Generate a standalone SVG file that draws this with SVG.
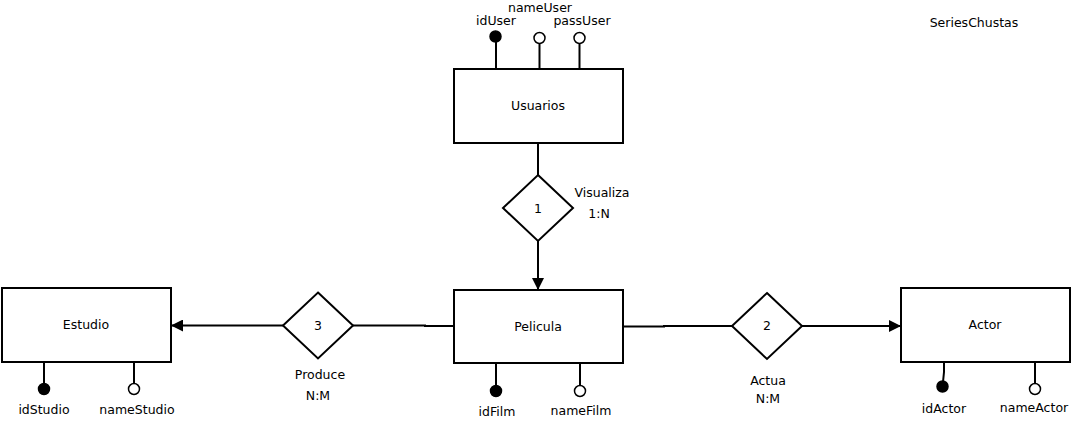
<svg xmlns="http://www.w3.org/2000/svg" width="1072" height="421" viewBox="0 0 1072 421">
<style>
text{font-family:"DejaVu Sans",sans-serif;font-size:12.5px;fill:#000;text-anchor:middle}
.ent{fill:#fff;stroke:#000;stroke-width:2}
.rel{fill:#fff;stroke:#000;stroke-width:2}
.ln{stroke:#000;stroke-width:2;fill:none}
.key{fill:#000;stroke:#000;stroke-width:1.5}
.att{fill:#fff;stroke:#000;stroke-width:1.5}
</style>
<defs>
<marker id="arr" viewBox="0 0 12 12" refX="12" refY="6" markerWidth="12" markerHeight="12" markerUnits="userSpaceOnUse" orient="auto">
<path d="M0,0 L12,6 L0,12 Z" fill="#000"/>
</marker>
</defs>
<g id="connectors">
<line class="ln" x1="538" y1="143" x2="538" y2="175"/>
<line class="ln" x1="538" y1="241" x2="538" y2="290" marker-end="url(#arr)"/>
<polyline class="ln" points="454,326 425,326 425,325.5 353,325.5"/>
<line class="ln" x1="283" y1="325.5" x2="171" y2="325.5" marker-end="url(#arr)"/>
<polyline class="ln" points="623,326.5 664,326.5 664,326 732,326"/>
<line class="ln" x1="802" y1="326" x2="901" y2="326" marker-end="url(#arr)"/>
</g>
<g id="usuarios">
<line class="ln" x1="496" y1="69" x2="496" y2="42"/>
<line class="ln" x1="539.5" y1="69" x2="539.5" y2="44"/>
<line class="ln" x1="579.5" y1="69" x2="579.5" y2="44"/>
<circle class="key" cx="495.5" cy="36.5" r="5.5"/>
<circle class="att" cx="539.5" cy="38" r="5.5"/>
<circle class="att" cx="579.5" cy="38" r="5.5"/>
<rect class="ent" x="454" y="69" width="169" height="74"/>
<text x="538" y="110">Usuarios</text>
<text x="496" y="25">idUser</text>
<text x="540" y="12">nameUser</text>
<text x="582" y="25">passUser</text>
</g>
<g id="rel1">
<polygon class="rel" points="538,175 573,208 538,241 503,208"/>
<text x="538" y="213">1</text>
<text x="602" y="197">Visualiza</text>
<text x="599" y="218">1:N</text>
</g>
<g id="pelicula">
<line class="ln" x1="496" y1="363" x2="496" y2="386"/>
<line class="ln" x1="580" y1="363" x2="580" y2="386"/>
<circle class="key" cx="496" cy="391" r="5.5"/>
<circle class="att" cx="580" cy="391" r="5.5"/>
<rect class="ent" x="454" y="290" width="169" height="73"/>
<text x="538" y="331">Pelicula</text>
<text x="497" y="416">idFilm</text>
<text x="581" y="415">nameFilm</text>
</g>
<g id="estudio">
<line class="ln" x1="44" y1="362" x2="44" y2="384"/>
<line class="ln" x1="134" y1="362" x2="134" y2="384"/>
<circle class="key" cx="44" cy="389" r="5.5"/>
<circle class="att" cx="134" cy="389" r="5.5"/>
<rect class="ent" x="2" y="288" width="169" height="74"/>
<text x="86" y="329">Estudio</text>
<text x="44" y="414">idStudio</text>
<text x="137" y="414">nameStudio</text>
</g>
<g id="rel3">
<polygon class="rel" points="318,292.5 353,325.5 318,358.5 283,325.5"/>
<text x="318" y="330">3</text>
<text x="320" y="379">Produce</text>
<text x="318" y="400">N:M</text>
</g>
<g id="rel2">
<polygon class="rel" points="767,293 802,326 767,359 732,326"/>
<text x="767" y="330">2</text>
<text x="768" y="385">Actua</text>
<text x="768" y="403">N:M</text>
</g>
<g id="actor">
<polyline class="ln" points="944,362 944,372 943,382"/>
<line class="ln" x1="1035" y1="362" x2="1035" y2="384"/>
<circle class="key" cx="942.5" cy="386.5" r="5.5"/>
<circle class="att" cx="1035" cy="389" r="5.5"/>
<rect class="ent" x="901" y="288" width="169" height="74"/>
<text x="985" y="329">Actor</text>
<text x="944" y="413">idActor</text>
<text x="1034" y="412">nameActor</text>
</g>
<g id="title">
<text x="974" y="27">SeriesChustas</text>
</g>
</svg>
